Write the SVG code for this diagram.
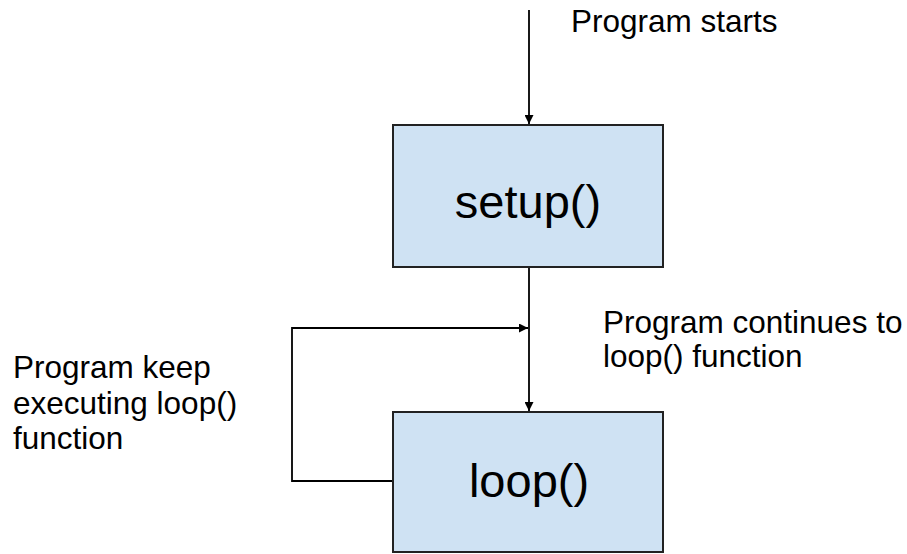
<svg xmlns="http://www.w3.org/2000/svg" width="907" height="554" viewBox="0 0 907 554">
  <style>
    .box { fill: #cfe2f3; stroke: #222; stroke-width: 2; }
    .edge { fill: none; stroke: #000; stroke-width: 1.8; }
    .label { font-family: "Liberation Sans", Arial, sans-serif; font-size: 31.5px; fill: #000; }
    .title { font-family: "Liberation Sans", Arial, sans-serif; font-size: 47px; fill: #000; text-anchor: middle; }
  </style>
  <defs>
    <marker id="arrow" viewBox="0 0 10 10" refX="10" refY="5" markerWidth="9" markerHeight="9" markerUnits="userSpaceOnUse" orient="auto">
      <path d="M0,0 L10,5 L0,10 z" fill="#000"/>
    </marker>
  </defs>
  <rect width="907" height="554" fill="#fff"/>

  <g id="connectors">
    <line class="edge" x1="529" y1="10" x2="529" y2="124" marker-end="url(#arrow)"/>
    <line class="edge" x1="529" y1="267" x2="529" y2="411" marker-end="url(#arrow)"/>
    <path class="edge" d="M393,481 H292 V328 H528" marker-end="url(#arrow)"/>
  </g>

  <g id="setup">
    <rect class="box" x="393" y="125" width="270" height="142"/>
    <text class="title" x="528" y="218">setup()</text>
  </g>

  <g id="loop">
    <rect class="box" x="393" y="412" width="270" height="140"/>
    <text class="title" x="529" y="497">loop()</text>
  </g>

  <g id="labels">
    <text class="label" x="571" y="32">Program starts</text>
    <text class="label" x="603" y="333">Program continues to</text>
    <text class="label" x="603" y="367">loop() function</text>
    <text class="label" x="13" y="378">Program keep</text>
    <text class="label" x="13" y="414">executing loop()</text>
    <text class="label" x="13" y="449">function</text>
  </g>
</svg>
